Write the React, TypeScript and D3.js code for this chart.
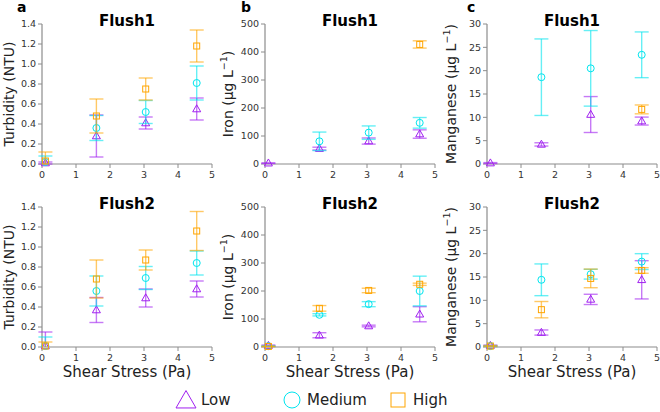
import React from 'react';
import * as d3 from 'd3';

// shear stress levels (Pa)
const shear = [0.1, 1.6, 3.05, 4.55];

type Val = number | null;

// turbidity (NTU)
const turbF1Low = [0.01, 0.28, 0.41, 0.55];
const turbF1LowErr = [0.01, 0.21, 0.06, 0.11];
const turbF1Med = [0.02, 0.36, 0.52, 0.81];
const turbF1MedErr = [0.06, 0.125, 0.115, 0.17];
const turbF1High = [0.03, 0.48, 0.75, 1.18];
const turbF1HighErr = [0.09, 0.17, 0.11, 0.16];

const turbF2Low = [0.01, 0.37, 0.49, 0.58];
const turbF2LowErr = [0.14, 0.125, 0.09, 0.08];
const turbF2Med = [0.01, 0.56, 0.69, 0.84];
const turbF2MedErr = [0.09, 0.15, 0.115, 0.12];
const turbF2High = [0.01, 0.68, 0.87, 1.16];
const turbF2HighErr = [0.04, 0.19, 0.1, 0.195];

// iron (ug/L)
const ironF1Low = [3, 55, 82, 107];
const ironF1LowErr = [1, 5, 11, 15];
const ironF1Med: Val[] = [null, 81, 112, 147];
const ironF1MedErr = [0, 33, 24, 19];
const ironF1High: Val[] = [null, null, null, 427];
const ironF1HighErr = [0, 0, 0, 13];

const ironF2Low = [5, 42, 75, 117];
const ironF2LowErr = [2, 9, 3, 27];
const ironF2Med = [3, 115, 153, 200];
const ironF2MedErr = [1, 4, 9, 53];
const ironF2High = [2, 138, 202, 224];
const ironF2HighErr = [1, 10, 8, 4];

// manganese (ug/L)
const mnF1Low = [0.2, 4.2, 10.6, 9.2];
const mnF1LowErr = [0.1, 0.35, 3.85, 0.85];
const mnF1Med: Val[] = [null, 18.6, 20.5, 23.4];
const mnF1MedErr = [0, 8.2, 8.1, 4.9];
const mnF1High: Val[] = [null, null, null, 11.7];
const mnF1HighErr = [0, 0, 0, 0.95];

const mnF2Low = [0.3, 3.1, 10.2, 14.4];
const mnF2LowErr = [0.1, 0.55, 1.1, 4.1];
const mnF2Med = [0.2, 14.4, 15.6, 18.3];
const mnF2MedErr = [0.1, 3.4, 1.05, 1.7];
const mnF2High = [0.2, 8.0, 14.7, 16.4];
const mnF2HighErr = [0.1, 1.75, 2.0, 0.6];

const xTicks = [0, 1, 2, 3, 4, 5];
const turbTicks = [0, 0.2, 0.4, 0.6, 0.8, 1.0, 1.2, 1.4];
const ironTicks = [0, 100, 200, 300, 400, 500];
const mnTicks = [0, 5, 10, 15, 20, 25, 30];

const seriesNames = ['Low', 'Medium', 'High'];
const colors = ['#a020f0', '#00e5ee', '#ffa500'];

const FONT = 'DejaVu Sans, sans-serif';
const AXIS = '#8c8c8c';

type Series = { mean: Val[]; err: number[] };
type Panel = {
  letter: string;
  title: string;
  yLabel: string;
  unit: boolean;
  yMax: number;
  ticks: number[];
  fmt: (v: number) => string;
  series: Series[];
};

const one = (v: number) => v.toFixed(1);
const int = (v: number) => String(v);

const rows: Panel[][] = [
  [
    { letter: 'a', title: 'Flush1', yLabel: 'Turbidity (NTU)', unit: false, yMax: 1.4, ticks: turbTicks, fmt: one,
      series: [{ mean: turbF1Low, err: turbF1LowErr }, { mean: turbF1Med, err: turbF1MedErr }, { mean: turbF1High, err: turbF1HighErr }] },
    { letter: 'b', title: 'Flush1', yLabel: 'Iron', unit: true, yMax: 500, ticks: ironTicks, fmt: int,
      series: [{ mean: ironF1Low, err: ironF1LowErr }, { mean: ironF1Med, err: ironF1MedErr }, { mean: ironF1High, err: ironF1HighErr }] },
    { letter: 'c', title: 'Flush1', yLabel: 'Manganese', unit: true, yMax: 30, ticks: mnTicks, fmt: int,
      series: [{ mean: mnF1Low, err: mnF1LowErr }, { mean: mnF1Med, err: mnF1MedErr }, { mean: mnF1High, err: mnF1HighErr }] },
  ],
  [
    { letter: '', title: 'Flush2', yLabel: 'Turbidity (NTU)', unit: false, yMax: 1.4, ticks: turbTicks, fmt: one,
      series: [{ mean: turbF2Low, err: turbF2LowErr }, { mean: turbF2Med, err: turbF2MedErr }, { mean: turbF2High, err: turbF2HighErr }] },
    { letter: '', title: 'Flush2', yLabel: 'Iron', unit: true, yMax: 500, ticks: ironTicks, fmt: int,
      series: [{ mean: ironF2Low, err: ironF2LowErr }, { mean: ironF2Med, err: ironF2MedErr }, { mean: ironF2High, err: ironF2HighErr }] },
    { letter: '', title: 'Flush2', yLabel: 'Manganese', unit: true, yMax: 30, ticks: mnTicks, fmt: int,
      series: [{ mean: mnF2Low, err: mnF2LowErr }, { mean: mnF2Med, err: mnF2MedErr }, { mean: mnF2High, err: mnF2HighErr }] },
  ],
];

const panelLeft = [42, 265, 487];
const letterX = [17, 241, 467];
const labelX = [14, 233, 456];
const panelW = 170;
const rowTop = [24, 207];
const panelH = 140;

const Marker: React.FC<{ kind: number; x: number; y: number; s: number; color: string }> = ({ kind, x, y, s, color }) => {
  if (kind === 0) {
    const h = s * 0.87;
    const pts = `${x},${y - h * 0.6} ${x - s / 2},${y + h * 0.4} ${x + s / 2},${y + h * 0.4}`;
    return <polygon points={pts} fill="none" stroke={color} strokeWidth={1} />;
  }
  if (kind === 1) return <circle cx={x} cy={y} r={s / 2} fill="none" stroke={color} strokeWidth={1} />;
  return <rect x={x - s / 2} y={y - s / 2} width={s} height={s} fill="none" stroke={color} strokeWidth={1} />;
};

const PanelView: React.FC<{ p: Panel; col: number; top: number; showX: boolean }> = ({ p, col, top, showX }) => {
  const left = panelLeft[col];
  const x = d3.scaleLinear().domain([0, 5]).range([left, left + panelW]);
  const y = d3.scaleLinear().domain([0, p.yMax]).range([top + panelH, top]);
  const bottom = top + panelH;
  const cap = 7;
  const midY = top + panelH / 2;
  return (
    <g>
      {p.letter && (
        <text x={letterX[col]} y={12} fontFamily={FONT} fontWeight="bold" fontSize={14}>{p.letter}</text>
      )}
      <text x={x(2.5)} y={top + 2} textAnchor="middle" fontFamily={FONT} fontWeight="bold" fontSize={15}>{p.title}</text>
      {/* axes */}
      <line x1={left} x2={left} y1={bottom} y2={y(p.yMax)} stroke={AXIS} strokeWidth={1.2} />
      <line x1={left} x2={x(5)} y1={bottom} y2={bottom} stroke={AXIS} strokeWidth={1.2} />
      {p.ticks.map(t => (
        <g key={`y${t}`}>
          <line x1={left - 4} x2={left} y1={y(t)} y2={y(t)} stroke={AXIS} strokeWidth={1} />
          <text x={left - 6} y={y(t)} dy="0.35em" textAnchor="end" fontFamily={FONT} fontSize={9.5} fill="#333">{p.fmt(t)}</text>
        </g>
      ))}
      {xTicks.map(t => (
        <g key={`x${t}`}>
          <line x1={x(t)} x2={x(t)} y1={bottom} y2={bottom + 4} stroke={AXIS} strokeWidth={1} />
          <text x={x(t)} y={bottom + 14} textAnchor="middle" fontFamily={FONT} fontSize={9.5} fill="#333">{t}</text>
        </g>
      ))}
      <text transform={`translate(${labelX[col]},${midY}) rotate(-90)`} textAnchor="middle" fontFamily={FONT} fontSize={14} fill="#222">
        {p.unit ? (
          <>
            {p.yLabel} (μg L<tspan dy={-6} fontSize={9.5}>−1</tspan><tspan dy={6}>)</tspan>
          </>
        ) : p.yLabel}
      </text>
      {showX && (
        <text x={x(2.5)} y={bottom + 30} textAnchor="middle" fontFamily={FONT} fontSize={15} fill="#222">Shear Stress (Pa)</text>
      )}
      {/* error bars and markers */}
      {p.series.map((s, si) => (
        <g key={si}>
          {s.mean.map((m, i) => {
            if (m === null) return null;
            const cx = x(shear[i]);
            const hi = y(m + s.err[i]);
            const loV = m - s.err[i];
            const lo = y(Math.max(0, loV));
            return (
              <g key={i}>
                <g stroke={colors[si]} strokeOpacity={0.6} strokeWidth={1.4}>
                  <line x1={cx} x2={cx} y1={hi} y2={lo} />
                  <line x1={cx - cap} x2={cx + cap} y1={hi} y2={hi} />
                  {loV >= 0 && <line x1={cx - cap} x2={cx + cap} y1={lo} y2={lo} />}
                </g>
                <Marker kind={si} x={cx} y={y(m)} s={si === 0 ? 8 : si === 1 ? 7 : 6} color={colors[si]} />
              </g>
            );
          })}
        </g>
      ))}
    </g>
  );
};

const legendX = [186, 292, 398];

const App: React.FC = () => (
  <svg width={660} height={412} style={{ position: 'absolute', left: 0, top: 0 }}>
    <rect width={660} height={412} fill="#fff" />
    {rows.map((row, ri) =>
      row.map((p, ci) => (
        <PanelView key={`${ri}-${ci}`} p={p} col={ci} top={rowTop[ri]} showX={ri === 1} />
      ))
    )}
    {seriesNames.map((n, i) => (
      <g key={n}>
        <Marker kind={i} x={legendX[i]} y={i === 0 ? 401 : 400} s={i === 0 ? 20 : i === 1 ? 16 : 14} color={colors[i]} />
        <text x={legendX[i] + 15} y={400} dy="0.35em" fontFamily={FONT} fontSize={15} fill="#222">{n}</text>
      </g>
    ))}
  </svg>
);

export default App;
